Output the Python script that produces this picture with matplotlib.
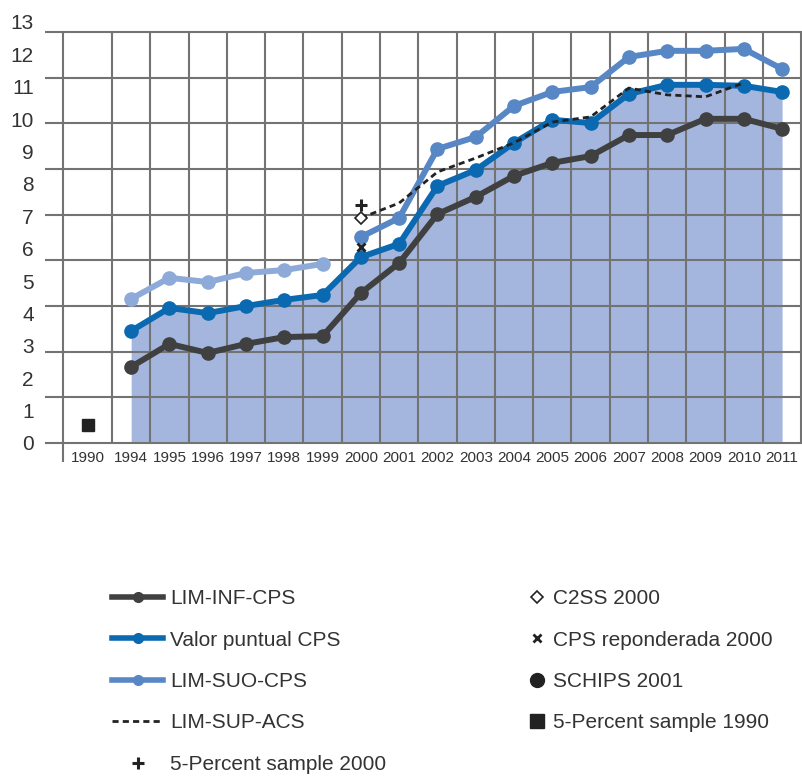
import numpy as np
import matplotlib
matplotlib.use("Agg")
import matplotlib.pyplot as plt
from matplotlib.lines import Line2D

plt.rcParams['font.family'] = ['Liberation Sans', 'DejaVu Sans']

years = ["1990", "1994", "1995", "1996", "1997", "1998", "1999", "2000", "2001", "2002",
         "2003", "2004", "2005", "2006", "2007", "2008", "2009", "2010", "2011"]

# series for 1994..2011
lim_inf = [2.35, 3.06, 2.78, 3.06, 3.27, 3.30, 4.63, 5.56, 7.07, 7.60, 8.25, 8.65, 8.86,
           9.51, 9.51, 10.01, 10.01, 9.70]
valor = [3.46, 4.17, 4.01, 4.23, 4.42, 4.57, 5.74, 6.15, 7.94, 8.43, 9.27, 9.98, 9.88,
         10.78, 11.06, 11.06, 11.03, 10.84]
lim_suo_early = [4.45, 5.10, 4.97, 5.25, 5.34, 5.53]            # 1994..1999
lim_suo_late = [6.36, 6.95, 9.08, 9.45, 10.41, 10.84, 10.99, 11.92, 12.11, 12.11,
                12.17, 11.55]                                    # 2000..2011
lim_sup_acs = [6.95, 7.41, 8.37, 8.80, 9.27, 9.91, 10.07, 10.96, 10.75, 10.69, 11.12]  # 2000..2010
c2ss_2000 = 6.95
cps_rep_2000 = 6.05
pct5_2000 = 7.35
pct5_1990 = 0.56
yticks = list(range(0, 14))

# column layout: 1990 column is wider than the others
edges = np.array([-0.78] + [0.5 + i for i in range(19)])
centers = (edges[:-1] + edges[1:]) / 2
x94 = centers[1:]
i2000 = years.index("2000")

fig = plt.figure(figsize=(8.02, 7.79), dpi=100)
ax = fig.add_axes([45 / 802, 1 - 443 / 779, 757 / 802, 421 / 779])
ax.set_xlim(-1.25, 18.52)
ax.set_ylim(0, 13)
for s in ax.spines.values():
    s.set_visible(False)

grid_top = (443 - 32) / 32.38
gcol = "#737373"
ax.fill_between(x94, 0, valor, color="#a4b6dd", lw=0, zorder=1)
ax.hlines(np.linspace(0, grid_top, 10), -1.25, 18.52, color=gcol, lw=1.5, zorder=2, clip_on=False)
ax.vlines(edges[1:], 0, grid_top, color=gcol, lw=1.5, zorder=2)
ax.vlines(edges[0], -0.59, grid_top, color=gcol, lw=1.5, zorder=2, clip_on=False)

ax.plot(x94, lim_inf, color="#404040", lw=4.3, marker="o", ms=9.5, zorder=5)
ax.plot(x94, valor, color="#0a69b0", lw=4.3, marker="o", ms=9.5, zorder=6)
ax.plot(x94[:6], lim_suo_early, color="#8eaad8", lw=4.3, marker="o", ms=9.5, zorder=4)
ax.plot(centers[i2000:], lim_suo_late, color="#5887c6", lw=4.3, marker="o", ms=9.5, zorder=4)
ax.plot(centers[i2000:i2000 + len(lim_sup_acs)], lim_sup_acs, color="#222222", lw=2,
        ls=(0, (2.2, 1.5)), zorder=7)
ax.plot(centers[i2000], c2ss_2000, marker="D", ms=6, mfc="white", mec="#222222", mew=1.2, zorder=8)
ax.plot(centers[i2000], cps_rep_2000, marker="x", ms=6, mec="#222222", mew=2, zorder=8)
ax.plot(centers[i2000], pct5_2000, marker="+", ms=8, mec="#222222", mew=2.2, zorder=8)
ax.plot(centers[0], pct5_1990, marker="s", ms=9, color="#222222", lw=0, zorder=8)

ax.set_yticks(yticks)
ax.set_yticklabels([str(v) for v in yticks], fontsize=15, color="#333333")
ax.set_xticks(centers)
ax.set_xticklabels(years, fontsize=11, color="#333333")
ax.tick_params(axis="y", length=0, pad=8)
ax.tick_params(axis="x", length=0, pad=6)

tc = "#333333"
left_handles = [
    Line2D([], [], color="#404040", lw=4, marker="o", ms=7),
    Line2D([], [], color="#0a69b0", lw=4, marker="o", ms=7),
    Line2D([], [], color="#5887c6", lw=4, marker="o", ms=7),
    Line2D([], [], color="#222222", lw=2, ls=(0, (2.2, 1.5))),
    Line2D([], [], color="#222222", lw=0, marker="+", ms=9, mew=2.2),
]
left_labels = ["LIM-INF-CPS", "Valor puntual CPS", "LIM-SUO-CPS", "LIM-SUP-ACS", "5-Percent sample 2000"]
right_handles = [
    Line2D([], [], lw=0, marker="D", ms=6, mfc="white", mec="#222222", mew=1.2),
    Line2D([], [], lw=0, marker="x", ms=6, mec="#222222", mew=2),
    Line2D([], [], lw=0, marker="o", ms=10, color="#222222"),
    Line2D([], [], lw=0, marker="s", ms=10, color="#222222"),
]
right_labels = ["C2SS 2000", "CPS reponderada 2000", "SCHIPS 2001", "5-Percent sample 1990"]

leg1 = fig.legend(left_handles, left_labels, loc="upper left", bbox_to_anchor=(112 / 802, 1 - 589 / 779),
                  frameon=False, fontsize=15, handlelength=2.45, handletextpad=0.34, labelspacing=1.08,
                  borderpad=0, borderaxespad=0, labelcolor=tc)
leg2 = fig.legend(right_handles, right_labels, loc="upper left", bbox_to_anchor=(527 / 802, 1 - 589 / 779),
                  frameon=False, fontsize=15, handlelength=1.0, handletextpad=0.25, labelspacing=1.08,
                  borderpad=0, borderaxespad=0, labelcolor=tc)

fig.savefig("out.png", dpi=100)
